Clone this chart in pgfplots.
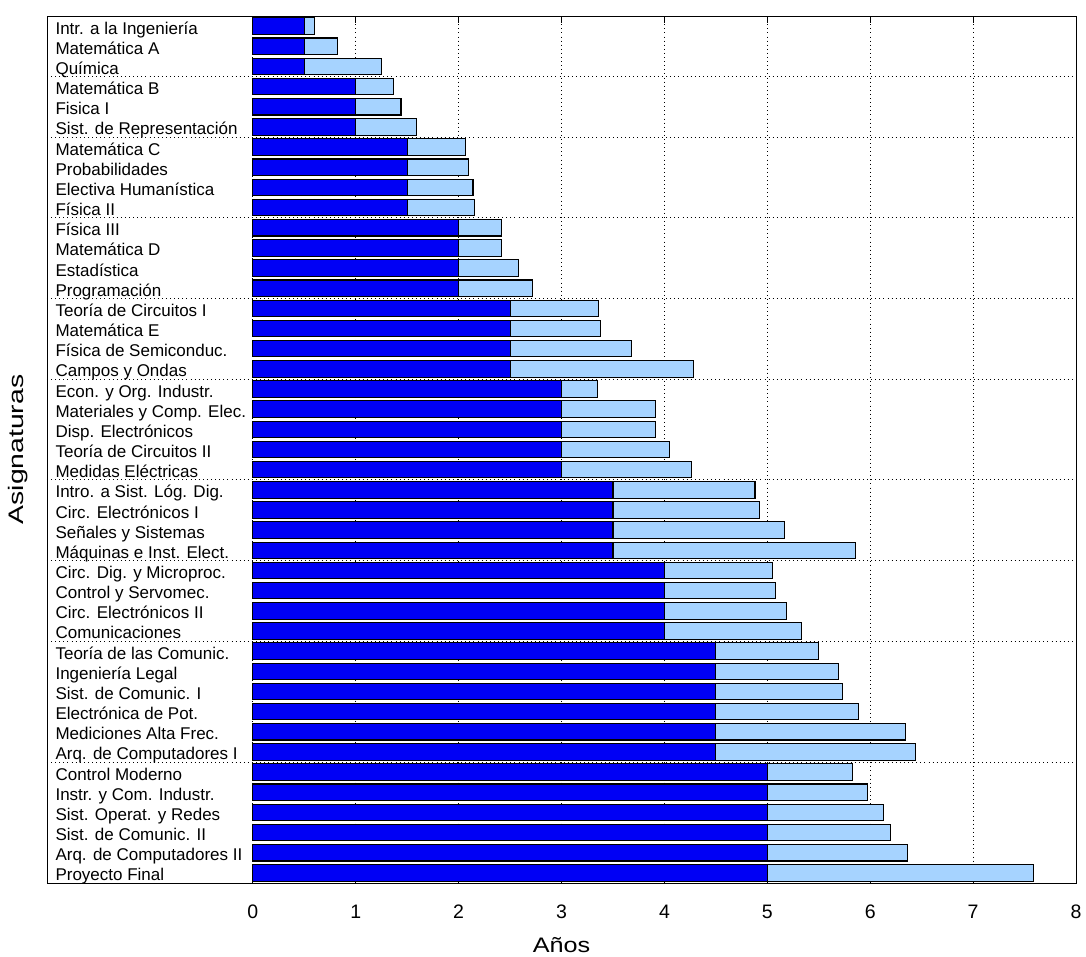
\documentclass[border=0pt]{standalone}
\usepackage{pgfplots}
\usepackage{pgfplotstable}
\pgfplotsset{compat=1.18}
\usepackage{fontspec}
\setmainfont{Liberation Sans}
\usepackage{graphicx}
\definecolor{darkb}{RGB}{0,0,245}
\definecolor{lightb}{RGB}{166,211,255}

\pgfplotstableread{
y base extra
1 0.5 0.10
2 0.5 0.32
3 0.5 0.75
4 1.0 0.37
5 1.0 0.44
6 1.0 0.59
7 1.5 0.57
8 1.5 0.60
9 1.5 0.64
10 1.5 0.65
11 2.0 0.42
12 2.0 0.42
13 2.0 0.58
14 2.0 0.72
15 2.5 0.86
16 2.5 0.88
17 2.5 1.18
18 2.5 1.78
19 3.0 0.35
20 3.0 0.91
21 3.0 0.91
22 3.0 1.05
23 3.0 1.26
24 3.5 1.38
25 3.5 1.42
26 3.5 1.67
27 3.5 2.36
28 4.0 1.05
29 4.0 1.08
30 4.0 1.19
31 4.0 1.33
32 4.5 1.00
33 4.5 1.19
34 4.5 1.23
35 4.5 1.39
36 4.5 1.84
37 4.5 1.94
38 5.0 0.83
39 5.0 0.97
40 5.0 1.13
41 5.0 1.20
42 5.0 1.36
43 5.0 2.59
}\datatable

\begin{document}
\begin{tikzpicture}
\useasboundingbox (-47pt,-73pt) rectangle (1039pt,883pt);
\begin{axis}[
  at={(0pt,0pt)}, anchor=south west,
  width=1029pt, height=867pt, scale only axis,
  xmin=-2, xmax=8, ymin=0.5, ymax=43.5, y dir=reverse,
  xbar stacked, bar width=16.5pt,
  xtick={0,...,8},
  xmajorgrids,
  ytick={1,...,43},
  yticklabels={
    Intr. a la Ingeniería, Matemática A, Química,
    Matemática B, Fisica I, Sist. de Representación,
    Matemática C, Probabilidades, Electiva Humanística, Física II,
    Física III, Matemática D, Estadística, Programación,
    Teoría de Circuitos I, Matemática E, Física de Semiconduc., Campos y Ondas,
    Econ. y Org. Industr., Materiales y Comp. Elec., Disp. Electrónicos, Teoría de Circuitos II, Medidas Eléctricas,
    Intro. a Sist. Lóg. Dig., Circ. Electrónicos I, Señales y Sistemas, Máquinas e Inst. Elect.,
    Circ. Dig. y Microproc., Control y Servomec., Circ. Electrónicos II, Comunicaciones,
    Teoría de las Comunic., Ingeniería Legal, Sist. de Comunic. I, Electrónica de Pot., Mediciones Alta Frec., Arq. de Computadores I,
    Control Moderno, Instr. y Com. Industr., Sist. Operat. y Redes, Sist. de Comunic. II, Arq. de Computadores II, Proyecto Final},
  extra y ticks={3.5,6.5,10.5,14.5,18.5,23.5,27.5,31.5,37.5},
  extra y tick labels={},
  extra y tick style={grid=major},
  grid style={black, line width=0.8pt, dash pattern=on 0.9pt off 3.2pt},
  major tick length=7pt,
  tick style={black, line width=0.8pt},
  ytick style={draw=none},
  axis line style={black, line width=0.9pt},
  /pgf/number format/assume math mode=true,
  yticklabel style={font=\fontsize{17}{20}\selectfont, anchor=base west, xshift=5pt, yshift=-8pt},
  xticklabel style={font=\fontsize{19.5}{22}\selectfont, yshift=-18.5pt},
  xlabel={\scalebox{1.2}[1]{Años}},
  ylabel={\scalebox{1.35}[1]{Asignaturas}},
  every axis x label/.style={at={(axis description cs:0.5,-0.0625)}, anchor=north, inner sep=0pt, font=\fontsize{21}{24}\selectfont},
  every axis y label/.style={at={(axis description cs:-0.0153,0.5)}, rotate=90, anchor=south, font=\fontsize{21}{24}\selectfont},
]
\addplot[fill=darkb, draw=black, line width=1.1pt] table[x=base, y=y]{\datatable};
\addplot[fill=lightb, draw=black, line width=1.1pt] table[x=extra, y=y]{\datatable};
\end{axis}
\end{tikzpicture}
\end{document}
